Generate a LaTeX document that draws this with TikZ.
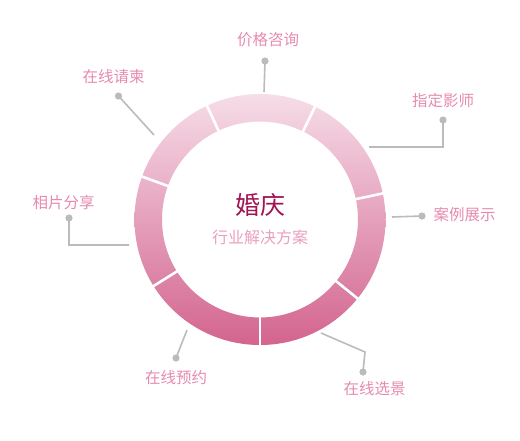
\documentclass[tikz,border=0pt]{standalone}
\usepackage{fontspec}
\usetikzlibrary{calc}
\newfontfamily\cjk{Noto Sans CJK SC}
\definecolor{ringtop}{RGB}{246,221,232}
\definecolor{ringbot}{RGB}{211,100,142}
\definecolor{lbl}{RGB}{230,138,176}
\definecolor{sub}{RGB}{233,160,192}
\definecolor{ttl}{RGB}{160,20,84}
\definecolor{wire}{RGB}{187,187,187}
\tikzset{wireline/.style={draw=wire, line width=1.6pt}}
\begin{document}
\begin{tikzpicture}[x=1pt, y=-1pt, every node/.style={font=\cjk\fontsize{15.5}{16}\selectfont, text=lbl, inner sep=0pt}]
  \useasboundingbox (0,0) rectangle (520,440);
  \coordinate (C) at (260,219.5);
  % ring with white gaps
  \shade[top color=ringtop, bottom color=ringbot, even odd rule] (C) circle (125.5) (C) circle (98);
  \foreach \a in {90,39,-12,-64,-115,-160,-212}
    \draw[white, line width=2.6pt] ($(C)+(\a:95)$) -- ($(C)+(\a:129)$);
  \node[font=\cjk\fontsize{25}{25}\selectfont, text=ttl] (T) at (260,205) {婚庆};
  \node[font=\cjk\fontsize{16}{16}\selectfont, text=sub] (S) at (260,237) {行业解决方案};
  % labels
  \node (P) at (268,40) {价格咨询};
  \node (H) at (443,101) {指定影师};
  \node (A) at (464.5,215) {案例展示};
  \node (V) at (374.5,389) {在线选景};
  \node (B) at (176,378) {在线预约};
  \node (F) at (63.5,203) {相片分享};
  \node (I) at (113.5,77) {在线请柬};
  % dots and connector ends
  \coordinate (p) at (265,61);    \coordinate (p') at (264,92);
  \coordinate (h) at (443,120);   \coordinate (h') at (369,147);
  \coordinate (a) at (422,216);   \coordinate (a') at (392,217);
  \coordinate (v) at (363,372);   \coordinate (v') at (321,333);
  \coordinate (vb) at (365,352);
  \coordinate (b) at (176,358);   \coordinate (b') at (187,330);
  \coordinate (f) at (69,218);    \coordinate (f') at (129,245);
  \coordinate (i) at (118.5,96);  \coordinate (i') at (154,135);
  \draw[wireline] (p) -- (p') (a) -- (a') (b) -- (b') (i) -- (i');
  \draw[wireline] (h) |- (h') (f) |- (f') (v) -- (vb) -- (v');
  \foreach \d in {p,h,a,v,b,f,i}
    \fill[wire] (\d) circle (3.6);
\end{tikzpicture}
\end{document}
